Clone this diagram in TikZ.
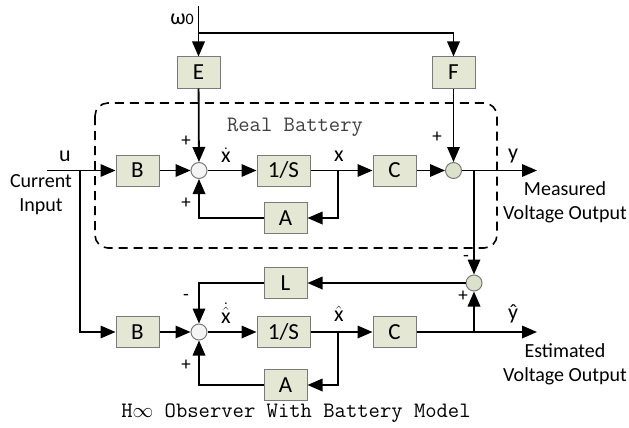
\documentclass[tikz,border=0pt]{standalone}
\usepackage{amsmath}
\usepackage{fontspec}
\setmainfont{Carlito}
\usetikzlibrary{arrows.meta,positioning}
\definecolor{BlockFill}{HTML}{E3E7D3}
\definecolor{BlockDraw}{HTML}{7A7A7A}
\definecolor{SumFill}{HTML}{F4F4F4}
\definecolor{SumFillG}{HTML}{DCE1CB}
\definecolor{TitleGray}{HTML}{404040}

\begin{document}
\begin{tikzpicture}[
        x=1pt, y=-1pt,
        blk/.style={draw=BlockDraw, fill=BlockFill, line width=1pt,
          minimum width=43pt, minimum height=31pt, inner sep=0pt, font=\fontsize{23}{26}\selectfont},
        wideblk/.style={blk, minimum width=53pt},
        sumnode/.style={circle, draw=BlockDraw, fill=SumFill, line width=1pt,
          minimum size=16pt, inner sep=0pt},
        sumg/.style={sumnode, fill=SumFillG},
        sig/.style={font=\fontsize{22}{26}\selectfont, inner sep=1pt},
        sgn/.style={font=\fontsize{19}{22}\selectfont, inner sep=1pt},
        note/.style={align=center, font=\fontsize{20}{24}\selectfont},
        mono/.style={font=\ttfamily\fontsize{22}{26}\selectfont},
        arrow/.style={-{Triangle[length=15pt,width=12.5pt]}, line width=1.8pt}
      ]
        \useasboundingbox (0,0) rectangle (629,428);
        % real battery
        \draw[line width=1.6pt, dash pattern=on 9pt off 6pt, rounded corners=13pt]
          (95,103) rectangle (497,248);
        \node[mono, text=TitleGray] (realtxt) at (295,127) {Real Battery};

        \node[blk] (E) at (198.5,72.5) {E};
        \node[blk] (F) at (453.5,72.5) {F};
        \node[blk] (B1) at (137.5,170.5) {B};
        \node[sumnode] (s1) at (199,170.5) {};
        \node[wideblk] (I1) at (283.5,170.5) {1/S};
        \node[blk] (C1) at (394.5,170.5) {C};
        \node[sumg] (s2) at (453.5,170.5) {};
        \node[blk] (A1) at (285.5,218) {A};

        % observer
        \node[sumg] (s3) at (474,283) {};
        \node[blk] (L) at (285.5,283) {L};
        \node[blk] (B2) at (137.5,332) {B};
        \node[sumnode] (s4) at (199,332) {};
        \node[wideblk] (I2) at (283.5,332) {1/S};
        \node[blk] (C2) at (394.5,332) {C};
        \node[blk] (A2) at (285.5,385) {A};

        \coordinate (w0) at (198.5,6);
        \coordinate (uin) at (47,170.5);
        \coordinate (yout) at (537,170.5);
        \coordinate (yhout) at (537,332);

        % disturbance
        \draw[arrow] (w0) -- (E);
        \draw[arrow] (198.5,33) -| (F);
        \draw[arrow] (E) -- (s1);
        \draw[arrow] (F) -- (s2);

        % plant
        \draw[arrow] (uin) -- (B1);
        \draw[arrow] (B1) -- (s1);
        \draw[arrow] (s1) -- (I1);
        \draw[arrow] (I1) -- (C1);
        \draw[arrow] (C1) -- (s2);
        \draw[arrow] (s2) -- (yout);
        \draw[arrow] (338,170.5) |- (A1);
        \draw[arrow] (A1) -| (s1);
        \draw[arrow] (474,170.5) -- (s3);

        % observer wiring
        \draw[arrow] (80,170.5) |- (B2);
        \draw[arrow] (s3) -- (L);
        \draw[arrow] (L) -| (s4);
        \draw[arrow] (B2) -- (s4);
        \draw[arrow] (s4) -- (I2);
        \draw[arrow] (I2) -- (C2);
        \draw[arrow] (C2) -- (yhout);
        \draw[arrow] (474,332) -- (s3);
        \draw[arrow] (338,332) |- (A2);
        \draw[arrow] (A2) -| (s4);

        % labels
        \node[sig] (w0txt) at (182,19) {ω\raisebox{0pt}{\fontsize{16}{18}\selectfont 0}};
        \node[sig] (utxt) at (65,156) {u};
        \node[note] (intxt) at (41,195) {Current\\Input};
        \node[sgn] (p1) at (186,141) {+};
        \node[sgn] (p2) at (186,203) {+};
        \node[sig] (xd1) at (226,155) {$\dot{\mbox{x}}$};
        \node[sig] (x1) at (339,156) {x};
        \node[sgn] (p3) at (437,137) {+};
        \node[sig] (ytxt) at (513,156) {y};
        \node[note] (meastxt) at (565,202) {Measured\\Voltage Output};
        \node[sgn] (m1) at (466,258) {-};
        \node[sgn] (p4) at (463,296) {+};
        \node[sgn] (m2) at (186,297) {-};
        \node[sgn] (p5) at (186,365) {+};
        \node[sig] (xd2) at (226,313) {$\dot{\hat{\mbox{x}}}$};
        \node[sig] (x2) at (339,314) {$\hat{\mbox{x}}$};
        \node[sig] (yh) at (513,314) {ŷ};
        \node[note] (esttxt) at (565,364) {Estimated\\Voltage Output};
        \node[mono] (captxt) at (296,413) {H$\infty$ Observer With Battery Model};
      \end{tikzpicture}
\end{document}
